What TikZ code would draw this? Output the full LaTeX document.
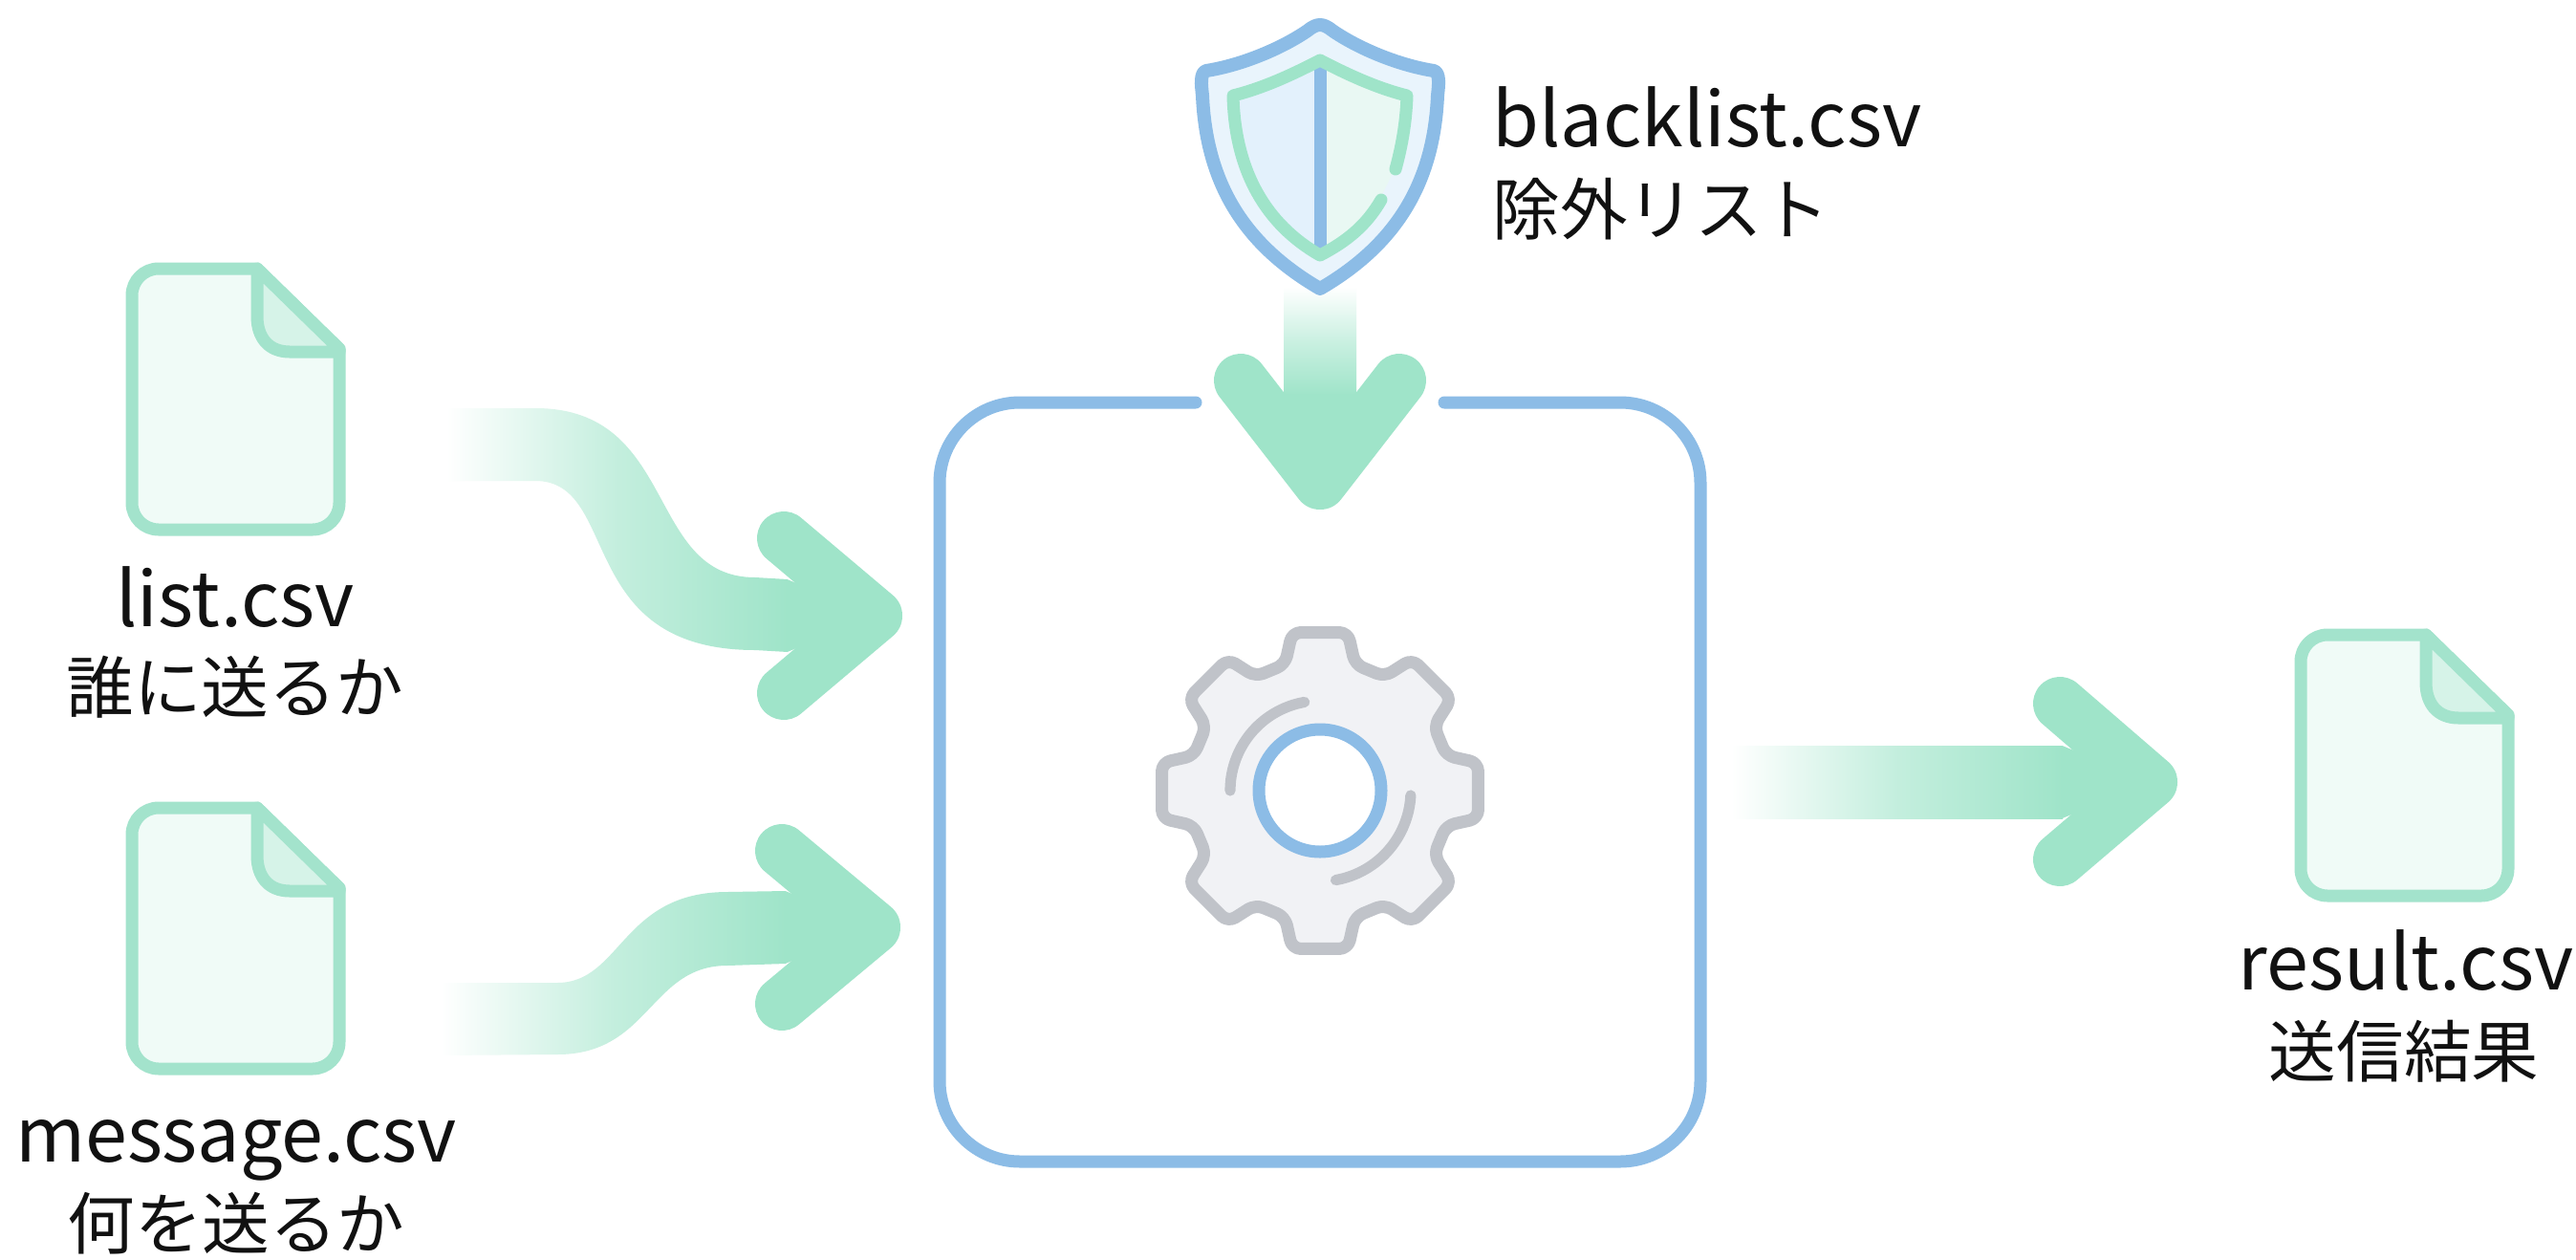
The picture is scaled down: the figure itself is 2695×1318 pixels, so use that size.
\documentclass[tikz,border=0pt]{standalone}
\usepackage{fontspec}
\setmainfont{Noto Sans CJK JP}
\usetikzlibrary{calc}
\definecolor{boxblue}{HTML}{8CBCE6}
\definecolor{arrowgreen}{HTML}{9FE4C9}
\definecolor{filegreen}{HTML}{A3E3CC}
\definecolor{filefill}{HTML}{F0FBF7}
\definecolor{foldfill}{HTML}{D6F3E8}
\definecolor{geargrey}{HTML}{C0C3C9}
\definecolor{gearfill}{HTML}{F1F2F5}
\definecolor{shieldfill}{HTML}{E9F4FC}
\definecolor{shieldleft}{HTML}{E3F1FC}
\definecolor{shieldright}{HTML}{E9F8F3}
\definecolor{inkblack}{HTML}{111111}
\tikzset{
  x=0.5pt,y=-0.5pt,
  chevron/.style={draw=arrowgreen,line width=28pt,line cap=round,line join=round},
  stemfade/.style={left color=white,right color=arrowgreen,middle color=arrowgreen!62!white,draw=none},
  engineline/.style={draw=boxblue,line width=6.5pt,line cap=round,line join=round},
  fileline/.style={draw=filegreen,line width=6.5pt,line join=round,line cap=round},
  gearline/.style={draw=geargrey,line width=6.5pt,line join=round},
  gearmark/.style={draw=geargrey,line width=5.6pt,line cap=round},
  shieldblue/.style={draw=boxblue,line width=7pt,line cap=round,line join=round},
  shieldgreen/.style={draw=arrowgreen,line width=6.5pt,line cap=round,line join=round},
  fname/.style={font=\fontsize{39.5pt}{46pt}\selectfont,text=inkblack,anchor=base,inner sep=0pt},
  fnote/.style={font=\fontsize{35.3pt}{42pt}\selectfont,text=inkblack,anchor=base,inner sep=0pt},
  fileicon/.pic={
    \draw[fileline,fill=filefill]
      (131,0) [rounded corners=14pt] -- (0,0) -- (0,273) -- (217,273) -- (217,150) [sharp corners] -- (217,84) -- cycle;
    \draw[fileline,fill=foldfill]
      (131,0) -- (131,50) .. controls (131,72) and (143,87) .. (165,87) -- (217,87) -- (217,84) -- cycle;
  }
}
\begin{document}
\begin{tikzpicture}
\useasboundingbox (0,0) rectangle (2695,1318);
\fill[white] (0,0) rectangle (2695,1318);

% named ends of the connectors
\coordinate (listout) at (467,465);
\coordinate (msgout) at (461,1066);
\coordinate (engineA) at (916,644);
\coordinate (engineB) at (914,970);
\coordinate (engineout) at (1811,818);
\coordinate (resultin) at (2250,818);
\coordinate (shieldout) at (1381,300);
\coordinate (engineC) at (1381,505);

% file icons
\pic at (138,281) {fileicon};
\pic at (138,845) {fileicon};
\pic at (2407,664) {fileicon};
\node[inner sep=0pt,minimum width=217*0.5pt,minimum height=273*0.5pt] (listfile) at (246,417) {};
\node[inner sep=0pt,minimum width=217*0.5pt,minimum height=273*0.5pt] (msgfile) at (246,981) {};
\node[inner sep=0pt,minimum width=217*0.5pt,minimum height=273*0.5pt] (resultfile) at (2515,800) {};

% engine box
\draw[engineline,rounded corners=42pt]
  (1251,421) -- (983,421) -- (983,1215) -- (1779,1215) -- (1779,421) -- (1511,421);

% arrow list -> engine
\shade[stemfade]
  ($(listout)+(0,-38)$) -- (560,427) .. controls (710,427) and (675,604) .. (790,604)
  -- ($(engineA)+(-92,-38)$) -- ($(engineA)+(-92,38)$) -- (790,680)
  .. controls (600,680) and (650,503) .. (560,503) -- ($(listout)+(0,38)$) -- cycle;
\fill[arrowgreen] ($(engineA)+(-92.5,-38)$) -- (engineA) -- ($(engineA)+(-92.5,38)$) -- cycle;
\draw[chevron] ($(engineA)+(-96,-81)$) -- (engineA) -- ($(engineA)+(-96,81)$);

% arrow message -> engine
\shade[stemfade]
  ($(msgout)+(0,-38)$) -- (583,1028) .. controls (650,1028) and (650,933) .. (761,933)
  -- ($(engineB)+(-92,-38)$) -- ($(engineB)+(-92,38)$) -- (761,1010)
  .. controls (680,1010) and (680,1103) .. (583,1103) -- ($(msgout)+(0,38)$) -- cycle;
\fill[arrowgreen] ($(engineB)+(-92.5,-38)$) -- (engineB) -- ($(engineB)+(-92.5,38)$) -- cycle;
\draw[chevron] ($(engineB)+(-96,-80)$) -- (engineB) -- ($(engineB)+(-96,80)$);

% arrow engine -> result
\shade[stemfade]
  ($(engineout)+(0,-38)$) -- ($(resultin)+(-92,-38)$) -- ($(resultin)+(-92,38)$) -- ($(engineout)+(0,38)$) -- cycle;
\fill[arrowgreen] ($(resultin)+(-92.5,-38)$) -- (resultin) -- ($(resultin)+(-92.5,38)$) -- cycle;
\draw[chevron] ($(resultin)+(-95,-82)$) -- (resultin) -- ($(resultin)+(-95,81)$);

% arrow shield -> engine
\shade[top color=white,bottom color=arrowgreen,middle color=arrowgreen!55!white,draw=none]
  ($(shieldout)+(-38,0)$) -- ($(engineC)+(-38,-92)$) -- ($(engineC)+(38,-92)$) -- ($(shieldout)+(38,0)$) -- cycle;
\fill[arrowgreen] ($(engineC)+(-38,-92.5)$) -- (engineC) -- ($(engineC)+(38,-92.5)$) -- cycle;
\draw[chevron] ($(engineC)+(-83,-107)$) -- (engineC) -- ($(engineC)+(83,-107)$);

% shield
\draw[shieldblue,fill=shieldfill]
  (1368,32) .. controls (1378,24) and (1384,24) .. (1394,32)
  .. controls (1420,50) and (1462,68) .. (1500,74)
  .. controls (1507,76) and (1505,90) .. (1504,100)
  .. controls (1500,190) and (1462,255) .. (1381,302)
  .. controls (1300,255) and (1262,190) .. (1258,100)
  .. controls (1257,90) and (1255,76) .. (1262,74)
  .. controls (1300,68) and (1342,50) .. (1368,32) -- cycle;
\fill[shieldleft]
  (1381,63) .. controls (1352,78) and (1322,92) .. (1290,100)
  .. controls (1292,180) and (1325,235) .. (1381,267) -- cycle;
\fill[shieldright]
  (1381,63) .. controls (1410,78) and (1440,92) .. (1472,100)
  .. controls (1470,180) and (1437,235) .. (1381,267) -- cycle;
\draw[shieldblue,line width=6.5pt] (1381,73) -- (1381,257);
\draw[shieldgreen]
  (1460,177) .. controls (1466,155) and (1471,130) .. (1472,100)
  .. controls (1440,92) and (1410,78) .. (1381,63)
  .. controls (1352,78) and (1322,92) .. (1290,100)
  .. controls (1292,180) and (1325,235) .. (1381,267)
  .. controls (1410,252) and (1430,235) .. (1445,209);

% gear
\begin{scope}[shift={(1381,827)}]
  \draw[gearline,fill=gearfill,rounded corners=4.5pt]
    (-15.5:137) -- (-10:168) -- (10:168) -- (15.5:137)
    foreach \a in {45,90,...,315} { -- (\a-15.5:137) -- (\a-10:168) -- (\a+10:168) -- (\a+15.5:137) } -- cycle;
  \draw[gearmark] plot[domain=180:260,samples=24,smooth] (\x:94);
  \draw[gearmark] plot[domain=3:80,samples=24,smooth] (\x:95);
  \node[circle,draw=boxblue,fill=white,line width=6.5pt,minimum size=64pt,inner sep=0pt] (gearhub) at (0,0) {};
\end{scope}

% labels
\node[fname] (listname) at (246,655) {list.csv};
\node[fnote] (listnote) at (246,745) {誰に送るか};
\node[fname] (msgname) at (247,1215) {message.csv};
\node[fnote] (msgnote) at (247,1306) {何を送るか};
\node[fname,anchor=base west] (blackname) at (1561,153) {blacklist.csv};
\node[fnote,anchor=base west] (blacknote) at (1561,245) {除外リスト};
\node[fname] (resultname) at (2517,1035) {result.csv};
\node[fnote] (resultnote) at (2515,1126) {送信結果};
\end{tikzpicture}
\end{document}
